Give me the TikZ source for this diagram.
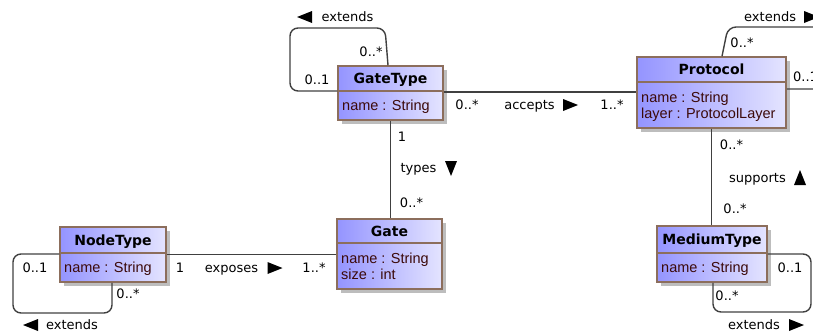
\documentclass[tikz,border=0pt]{standalone}
\usepackage{fontspec}
\setmainfont{DejaVu Sans}
\newfontfamily\attrfont{Liberation Sans}
\usetikzlibrary{shadows}
\definecolor{boxL}{HTML}{9494FF}
\definecolor{boxR}{HTML}{E4E4FF}
\definecolor{boxBorder}{HTML}{8C6E5C}
\definecolor{attrCol}{HTML}{3C0A0A}
\definecolor{edgeCol}{HTML}{404040}
\definecolor{shadowCol}{HTML}{BDBDBD}
\tikzset{
  cls/.style={draw=boxBorder, line width=1.5pt, left color=boxL, right color=boxR, inner sep=0pt,
    drop shadow={shadow xshift=4pt, shadow yshift=-4pt, fill=shadowCol, opacity=1}},
  sepline/.style={draw=boxBorder, line width=1.5pt},
  ctitle/.style={font=\fontsize{14}{16}\selectfont\bfseries, inner sep=0pt, text height=10pt, text depth=0pt},
  cattr/.style={font=\attrfont\fontsize{14.5}{16}\selectfont, text=attrCol, inner sep=0pt, anchor=west, text height=10.4pt, text depth=0pt},
  lbl/.style={font=\fontsize{13}{15}\selectfont, inner sep=0pt, text=black, text height=9.5pt, text depth=0pt},
  edge/.style={draw=edgeCol, line width=1.4pt, rounded corners=8pt},
  tri/.style={fill=black},
}
\newcommand\trir[2]{\fill[tri] (#1-7,#2-6) -- (#1+8,#2) -- (#1-7,#2+6) -- cycle;}
\newcommand\tril[2]{\fill[tri] (#1+7,#2-6) -- (#1-8,#2) -- (#1+7,#2+6) -- cycle;}
\newcommand\trid[2]{\fill[tri] (#1-6,#2-7) -- (#1,#2+8) -- (#1+6,#2-7) -- cycle;}
\newcommand\triu[2]{\fill[tri] (#1-6,#2+7) -- (#1,#2-8) -- (#1+6,#2+7) -- cycle;}
\begin{document}
\begin{tikzpicture}[x=1pt,y=-1pt]
\useasboundingbox (0,0) rectangle (813,332);
% classes
\node[cls, minimum width=105pt, minimum height=54pt] (gt) at (390.5,93) {};
\draw[sepline] (gt.west |- 0,91) -- (gt.east |- 0,91);
\node[ctitle] (gtT) at (390.5,78.5) {GateType};
\node[cattr] (gtA) at (342,105) {name : String};

\node[cls, minimum width=149pt, minimum height=71pt] (pr) at (711.5,92.5) {};
\draw[sepline] (pr.west |- 0,82) -- (pr.east |- 0,82);
\node[ctitle] (prT) at (711.5,69.5) {Protocol};
\node[cattr] (prA) at (641,97) {name : String};
\node[cattr] (prB) at (641,113) {layer : ProtocolLayer};

\node[cls, minimum width=106pt, minimum height=55pt] (nt) at (113,254.5) {};
\draw[sepline] (nt.west |- 0,253) -- (nt.east |- 0,253);
\node[ctitle] (ntT) at (113,240) {NodeType};
\node[cattr] (ntA) at (64,267) {name : String};

\node[cls, minimum width=105pt, minimum height=70pt] (gate) at (389.5,254) {};
\draw[sepline] (gate.west |- 0,243) -- (gate.east |- 0,243);
\node[ctitle] (gateT) at (389.5,231) {Gate};
\node[cattr] (gateA) at (341,258) {name : String};
\node[cattr] (gateB) at (341,274) {size : int};

\node[cls, minimum width=110pt, minimum height=56pt] (mt) at (712,254) {};
\draw[sepline] (mt.west |- 0,253) -- (mt.east |- 0,253);
\node[ctitle] (mtT) at (712,239.5) {MediumType};
\node[cattr] (mtA) at (661,267) {name : String};

% associations
\draw[edge] (gt.east |- 0,92) -- (pr.west |- 0,92);
\draw[edge] (gt.south) -- (gt.south |- gate.north);
\draw[edge] (pr.south) -- (pr.south |- mt.north);
\draw[edge] (nt.east) -- (nt.east -| gate.west);
% self loops
\draw[edge] ([xshift=-2.5pt]gt.north) -- (385,28) -- (290,28) -- (290,91) -- (gt.west |- 0,91);
\draw[edge] ([xshift=10.5pt]pr.north) -- (728,27) -- (830,27) -- (830,89) -- (pr.east |- 0,89);
\draw[edge] (nt.west |- 0,254) -| (13,313) -| ([xshift=-1pt]nt.south);
\draw[edge] (mt.east |- 0,254) -| (811,312) -| ([xshift=1pt]mt.south);

% labels: GateType loop
\node[lbl] (l1) at (347.5,17) {extends}; \tril{305}{17}
\node[lbl] (l2) at (371,52) {0..*};
\node[lbl] (l3) at (317,80) {0..1};
% Protocol loop
\node[lbl] (l4) at (742,43) {0..*};
\node[lbl, anchor=west] (l5) at (793,77) {0..1};
\node[lbl, anchor=west] (l6) at (744,17) {extends}; \trir{811}{17}
% NodeType loop
\node[lbl] (l7) at (35,268) {0..1};
\node[lbl] (l8) at (128,294) {0..*};
\node[lbl] (l9) at (72,325) {extends}; \tril{31}{325}
% MediumType loop
\node[lbl] (l10) at (790,268) {0..1};
\node[lbl] (l11) at (727,296) {0..*};
\node[lbl] (l12) at (754,325) {extends}; \trir{796}{325}
% accepts
\node[lbl] (l13) at (467,105) {0..*};
\node[lbl] (l14) at (529.5,105) {accepts}; \trir{570}{105}
\node[lbl] (l15) at (612,105) {1..*};
% types
\node[lbl] (l16) at (402,137) {1};
\node[lbl] (l17) at (418.5,168) {types}; \trid{451}{168}
\node[lbl] (l18) at (411.5,203) {0..*};
% supports
\node[lbl] (l19) at (731.5,145) {0..*};
\node[lbl] (l20) at (757.5,178) {supports}; \triu{800}{178}
\node[lbl] (l21) at (735,209) {0..*};
% exposes
\node[lbl] (l22) at (180,268) {1};
\node[lbl] (l23) at (231.5,268) {exposes}; \trir{274.5}{268}
\node[lbl] (l24) at (314,268) {1..*};
\end{tikzpicture}
\end{document}
